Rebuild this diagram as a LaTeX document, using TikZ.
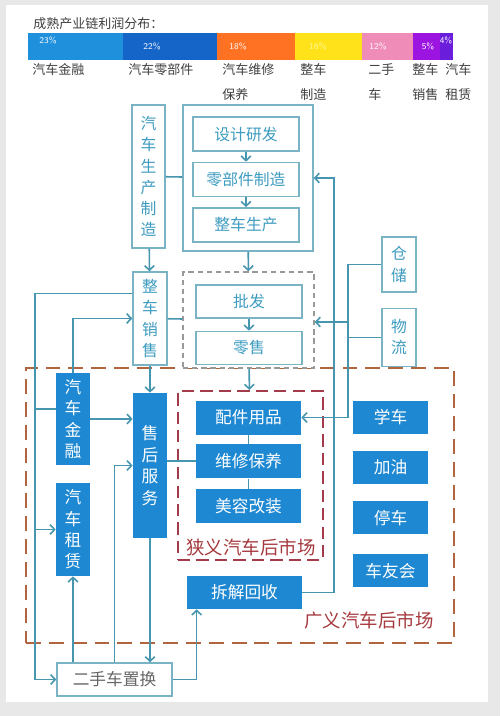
\documentclass[tikz,border=0pt]{standalone}
\usepackage{fontspec}
\newfontfamily\cjkfont{Noto Sans CJK SC}
\usepackage{tikz}
\usetikzlibrary{arrows.meta, positioning}

\definecolor{linec}{HTML}{4696AF}
\definecolor{boxline}{HTML}{7AB4C4}
\definecolor{tealtext}{HTML}{3E9CC0}
\definecolor{bluefill}{HTML}{1E88D2}
\definecolor{outerred}{HTML}{B0653F}
\definecolor{innerred}{HTML}{A33B4A}
\definecolor{marktext}{HTML}{A63A3E}
\definecolor{segfin}{HTML}{1E90DC}
\definecolor{segparts}{HTML}{1565C8}
\definecolor{segmaint}{HTML}{FF7224}
\definecolor{segmake}{HTML}{FFE21A}
\definecolor{segused}{HTML}{F08CB8}
\definecolor{segsale}{HTML}{9B14E0}
\definecolor{segrent}{HTML}{6A1EDC}

\begin{document}
\begin{tikzpicture}[
    x=0.2mm, y=-0.2mm,
    lightbox/.style={rectangle, draw=boxline, line width=0.8pt, fill=white, text=tealtext,
                     inner sep=0pt, align=center, font=\cjkfont\fontsize{9}{12}\selectfont},
    bluebox/.style={rectangle, fill=bluefill, text=white,
                    inner sep=0pt, align=center, font=\cjkfont\fontsize{9.5}{12.2}\selectfont},
    barlabel/.style={anchor=north west, inner sep=0pt, align=left, text=black!75,
                     font=\cjkfont\fontsize{7.4}{14.2}\selectfont},
    pct/.style={inner sep=0pt, text=white, font=\sffamily\fontsize{5}{6}\selectfont},
    link/.style={draw=linec, line width=0.9pt},
    arr/.style={link, -{Straight Barb[length=2.6pt,width=5.5pt]}},
    graydash/.style={draw=gray!80, line width=0.8pt, dash pattern=on 3pt off 2.2pt},
    innerdash/.style={draw=innerred, line width=1.2pt, dash pattern=on 7pt off 3.5pt},
    outerdash/.style={draw=outerred, line width=1.4pt, dash pattern=on 8.5pt off 4.5pt}
]
% page
\fill[gray!18] (0,0) rectangle (500,716);
\fill[white] (6,5) rectangle (488,702);
\useasboundingbox (0,0) rectangle (500,716);

% profit bar
\node[anchor=west, inner sep=0pt, text=black!75, font=\cjkfont\fontsize{7.4}{9}\selectfont]
    (title) at (33,24) {成熟产业链利润分布：};
\fill[segfin] (28,33) rectangle (123,60);
\fill[segparts] (123,33) rectangle (217,60);
\fill[segmaint] (217,33) rectangle (295,60);
\fill[segmake] (295,33) rectangle (362,60);
\fill[segused] (362,33) rectangle (413,60);
\fill[segsale] (413,33) rectangle (440,60);
\fill[segrent] (440,33) rectangle (453,60);
\node[pct] (p23) at (48,40) {23\%};
\node[pct] (p22) at (152,46) {22\%};
\node[pct] (p18) at (238,46) {18\%};
\node[pct, text=yellow!40] (p16) at (318,46) {16\%};
\node[pct] (p12) at (378,46) {12\%};
\node[pct] (p5) at (428,46) {5\%};
\node[pct] (p4) at (446,40) {4\%};

\node[barlabel] (l1) at (32,63)  {汽车金融};
\node[barlabel] (l2) at (128,63) {汽车零部件};
\node[barlabel] (l3) at (222,63) {汽车维修\\保养};
\node[barlabel] (l4) at (300,63) {整车\\制造};
\node[barlabel] (l5) at (368,63) {二手\\车};
\node[barlabel] (l6) at (412,63) {整车\\销售};
\node[barlabel] (l7) at (445,63) {汽车\\租赁};

% market frames
\node[outerdash, minimum width=85.6mm, minimum height=55mm] (wide) at (240,505.5) {};
\node[anchor=east, inner sep=0pt, text=marktext, font=\cjkfont\fontsize{10.5}{12}\selectfont]
    (widetext) at (434,620) {广义汽车后市场};
\node[innerdash, minimum width=29mm, minimum height=33.8mm] (narrow) at (250.5,475.5) {};
\node[anchor=west, inner sep=0pt, text=marktext, font=\cjkfont\fontsize{10.5}{12}\selectfont]
    (narrowtext) at (186,547) {狭义汽车后市场};

% production
\node[lightbox, minimum width=6.6mm, minimum height=28.6mm] (prod) at (148.5,176.5)
    {汽\\车\\生\\产\\制\\造};
\node[lightbox, minimum width=26mm, minimum height=29.2mm] (chain) at (248,178) {};
\node[lightbox, minimum width=21.2mm, minimum height=6.8mm] (rd) at (246,134) {设计研发};
\node[lightbox, minimum width=21.2mm, minimum height=6.8mm, below=2mm of rd] (parts) {零部件制造};
\node[lightbox, minimum width=21.2mm, minimum height=6.8mm, below=2mm of parts] (build) {整车生产};

% sales
\node[lightbox, minimum width=6.8mm, minimum height=18.6mm] (sales) at (150,318.5)
    {整\\车\\销\\售};
\node[graydash, fill=white, minimum width=26.2mm, minimum height=19.2mm] (trade) at (248.5,320) {};
\node[lightbox, minimum width=21.2mm, minimum height=6.6mm] (whole) at (249,301.5) {批发};
\node[lightbox, minimum width=21.2mm, minimum height=6.6mm, below=2.4mm of whole] (retail) {零售};
\node[lightbox, minimum width=6.8mm, minimum height=11mm] (store) at (399,264.5) {仓\\储};
\node[lightbox, minimum width=6.8mm, minimum height=11.6mm, below=3mm of store] (logi) {物\\流};

% after market
\node[bluebox, minimum width=6.8mm, minimum height=18.4mm] (fin) at (73,419) {汽\\车\\金\\融};
\node[bluebox, minimum width=6.8mm, minimum height=18.6mm] (rent) at (73,529.5) {汽\\车\\租\\赁};
\node[bluebox, minimum width=6.8mm, minimum height=29mm] (after) at (150,465.5) {售\\后\\服\\务};
\node[bluebox, minimum width=21mm, minimum height=6.8mm] (acc) at (248.5,417.5) {配件用品};
\node[bluebox, minimum width=21mm, minimum height=6.8mm, below=1.8mm of acc] (maint) {维修保养};
\node[bluebox, minimum width=21mm, minimum height=6.8mm, below=2mm of maint] (beauty) {美容改装};
\node[bluebox, minimum width=15mm, minimum height=6.6mm] (school) at (390.5,417.5) {学车};
\node[bluebox, minimum width=15mm, minimum height=6.6mm, below=3.2mm of school] (fuel) {加油};
\node[bluebox, minimum width=15mm, minimum height=6.6mm, below=3.4mm of fuel] (park) {停车};
\node[bluebox, minimum width=15mm, minimum height=6.6mm, below=3.8mm of park] (club) {车友会};
\node[bluebox, minimum width=23mm, minimum height=6.6mm] (scrap) at (244.5,592.5) {拆解回收};
\node[lightbox, text=black!60, font=\cjkfont\fontsize{9.5}{12}\selectfont,
      minimum width=23mm, minimum height=6.6mm] (used) at (114.5,679.5) {二手车置换};

% helper points
\coordinate (trunk) at (348,322);
\coordinate (back) at (334,178);
\coordinate (rail) at (35,500);
\coordinate (salesout) at ([yshift=5mm]sales.west);
\coordinate (finin) at ([yshift=2mm]fin.west);
\coordinate (scrapin) at ([xshift=2mm]scrap.south west);

% connectors
\draw[arr] (rd) -- (parts);
\draw[arr] (parts) -- (build);
\draw[link] (prod) -- (chain);
\draw[arr] (chain) -- (trade);
\draw[arr] (whole) -- (retail);
\draw[arr] (prod) -- (sales);
\draw[link] (sales) -- (trade);
\draw[arr] (sales) -- (after);
\draw[arr] (trade) -- (narrow);

\draw[link] (store.west) -- (store.west -| trunk);
\draw[link] (logi.west) -- (logi.west -| trunk);
\draw[arr] (store.west -| trunk) |- (acc.east);
\draw[arr] (trunk) -- (trunk -| trade.east);
\draw[arr] (scrap.east) -| (back) -- (chain.east);

\draw[arr] (salesout) -| (rail) |- (used.west);
\draw[link] (finin) -- (finin -| rail);
\draw[arr] (rail |- rent) -- (rent.west);
\draw[arr] (fin.north) |- (sales.west);
\draw[arr] (fin.east) -- (fin.east -| after.west);
\draw[arr] (used.north -| rent) -- (rent.south);
\draw[arr] (used.north) |- (after.west);
\draw[arr] (after.south) -- (after.south |- used.north);
\draw[arr] (used.east) -| (scrapin);

\draw[link] (after.east |- maint) -- (maint.west);
\draw[link] (acc) -- (maint);
\draw[link] (maint) -- (beauty);
\end{tikzpicture}
\end{document}
